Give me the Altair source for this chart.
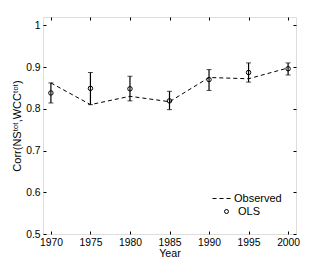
import altair as alt
import pandas as pd

years = [1970, 1975, 1980, 1985, 1990, 1995, 2000]
observed = [0.862, 0.810, 0.830, 0.817, 0.875, 0.872, 0.898]
ols = [0.838, 0.849, 0.848, 0.819, 0.870, 0.887, 0.896]
ols_low = [0.814, 0.810, 0.819, 0.798, 0.844, 0.864, 0.881]
ols_high = [0.862, 0.887, 0.878, 0.842, 0.894, 0.910, 0.910]
x_ticks = [1970, 1975, 1980, 1985, 1990, 1995, 2000]
y_ticks = [0.5, 0.6, 0.7, 0.8, 0.9, 1.0]
x_domain = [1969, 2001]
y_domain = [0.5, 1.02]

df = pd.DataFrame({
    "Year": years, "Observed": observed, "OLS": ols,
    "Low": ols_low, "High": ols_high,
    "s_obs": ["Observed"] * len(years), "s_ols": ["OLS"] * len(years),
})

FONT = "Liberation Sans"
xs = alt.Scale(domain=x_domain, nice=False, zero=False)
ys = alt.Scale(domain=y_domain, nice=False, zero=False)


def tick_axis(orient, values):
    return alt.Axis(orient=orient, values=values, labels=False, domain=False,
                    grid=False, ticks=True, tickSize=3, offset=-3,
                    tickColor="black", title=None)


x_label_axis = alt.Axis(orient="bottom", values=x_ticks, format="d", ticks=False,
                        domain=False, grid=False, labelPadding=3, labelFontSize=10.3,
                        labelFont=FONT, labelColor="black", title="Year",
                        titleFont=FONT, titleFontSize=10.7, titleFontWeight="normal",
                        titleColor="black", titleBaseline="alphabetic", titleY=22.5)
y_label_axis = alt.Axis(orient="left", values=y_ticks, format="~g", ticks=False,
                        domain=False, grid=False, labelPadding=3, labelFontSize=10.3,
                        labelFont=FONT, labelColor="black",
                        title="Corr(NSᵗᵒᵗ,WCCᵗᵒᵗ)", titleFont=FONT,
                        titleFontSize=11, titleFontWeight="normal",
                        titleColor="black", titlePadding=3)

base = alt.Chart(df)

line = base.mark_line(color="black", strokeWidth=1).encode(
    x=alt.X("Year:Q", scale=xs, axis=x_label_axis),
    y=alt.Y("Observed:Q", scale=ys, axis=y_label_axis),
    strokeDash=alt.StrokeDash(
        "s_obs:N", scale=alt.Scale(domain=["Observed"], range=[[4, 3]]),
        legend=alt.Legend(title=None, orient="none", legendX=169, legendY=172,
                          symbolSize=324, symbolStrokeWidth=1,
                          symbolStrokeColor="black", labelOffset=3,
                          labelFont=FONT, labelFontSize=11, labelColor="black",
                          padding=0)),
)

rules = base.mark_rule(color="black", strokeWidth=1.2).encode(
    x=alt.X("Year:Q", scale=xs, axis=tick_axis("bottom", x_ticks)),
    y=alt.Y("Low:Q", scale=ys, axis=tick_axis("left", y_ticks)),
    y2="High:Q",
)

caps_low = base.mark_tick(color="black", orient="horizontal", size=5, thickness=1).encode(
    x=alt.X("Year:Q", scale=xs, axis=tick_axis("top", x_ticks)),
    y=alt.Y("Low:Q", scale=ys, axis=tick_axis("right", y_ticks)),
)

caps_high = base.mark_tick(color="black", orient="horizontal", size=5, thickness=1).encode(
    x=alt.X("Year:Q", scale=xs, axis=None),
    y=alt.Y("High:Q", scale=ys, axis=None),
)

points = base.mark_point(filled=False, color="black", strokeWidth=1, size=20, opacity=1).encode(
    x=alt.X("Year:Q", scale=xs, axis=None),
    y=alt.Y("OLS:Q", scale=ys, axis=None),
    shape=alt.Shape(
        "s_ols:N", scale=alt.Scale(domain=["OLS"], range=["circle"]),
        legend=alt.Legend(title=None, orient="none", legendX=178, legendY=189,
                          symbolSize=16, symbolFillColor="transparent",
                          symbolStrokeColor="black", symbolStrokeWidth=1,
                          labelOffset=6, labelFont=FONT, labelFontSize=11,
                          labelColor="black", padding=0)),
)

chart = alt.layer(line, rules, caps_low, caps_high, points).resolve_axis(
    x="independent", y="independent"
).properties(
    width=253, height=217,
    autosize=alt.AutoSizeParams(type="none"),
    padding={"left": 35, "top": 9, "right": 23, "bottom": 25},
).configure_view(stroke="black", strokeWidth=1).configure(background="white")

chart.save("out.html", embed_options={"renderer": "svg", "actions": False})
